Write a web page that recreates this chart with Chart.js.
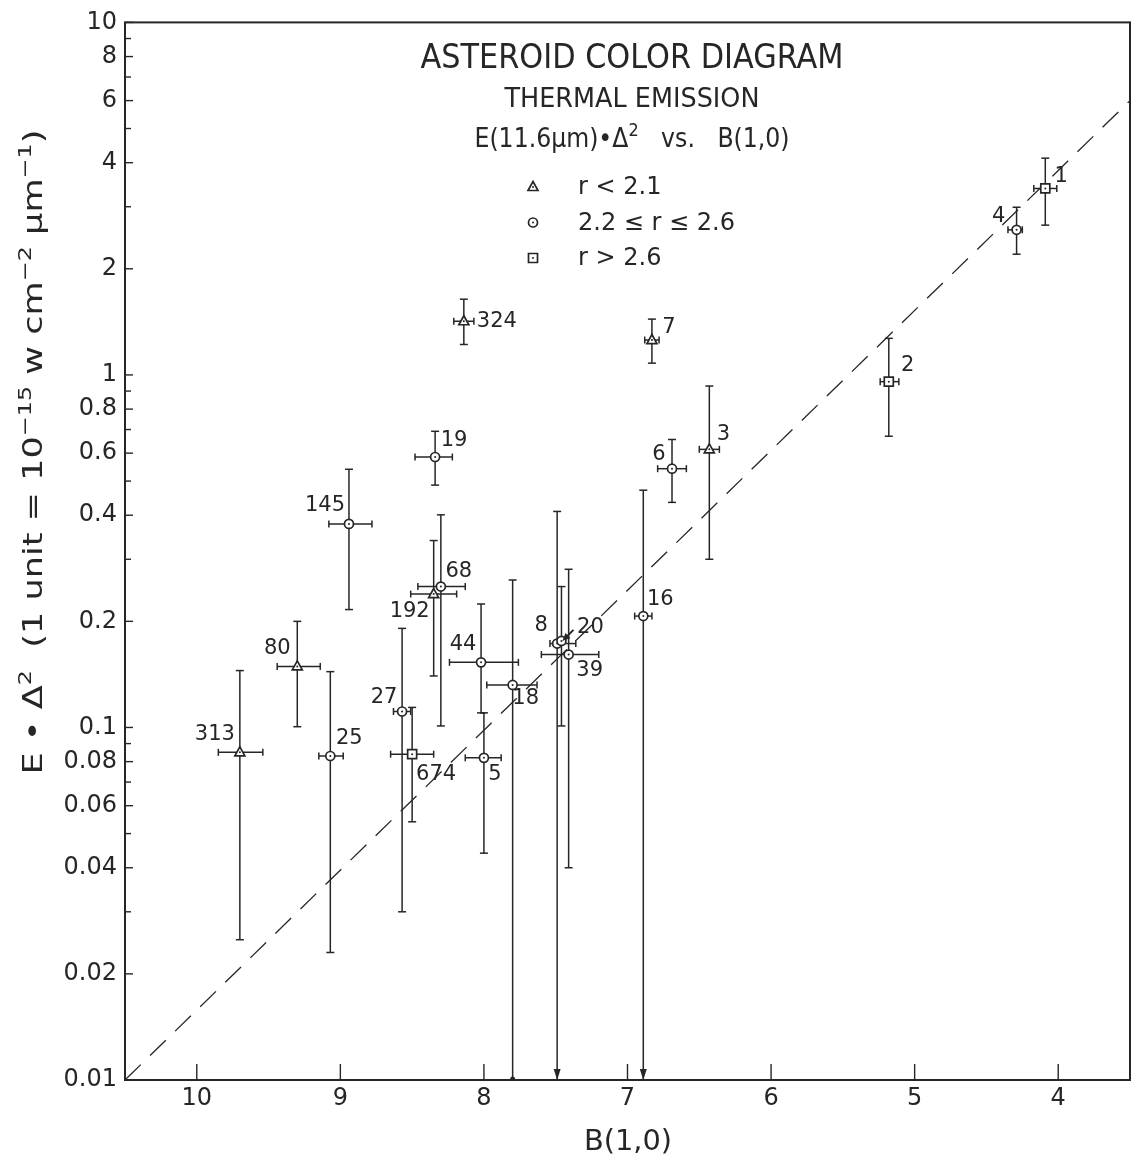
<!DOCTYPE html>
<html>
<head>
<meta charset="utf-8">
<script src="https://cdn.jsdelivr.net/npm/chart.js@4.4.1/dist/chart.umd.min.js"></script>
<style>
  html, body { margin: 0; padding: 0; background: #fff; }
  #wrap { width: 1138px; height: 1165px; }
</style>
</head>
<body>
<div id="wrap"><canvas id="chart" width="1138" height="1165"></canvas></div>
<script>
/* Asteroid colour diagram — thermal emission vs B(1,0) */

/* ── DATA ───────────────────────────────────────────────────── */
const asteroid = ['1', '2', '3', '4', '5', '6', '7', '8', '16', '18', '19', '20',
                  '25', '27', '39', '44', '68', '80', '145', '192', '313', '324', '674'];
const bMag     = [4.09, 5.18, 6.43, 4.29, 8.00, 6.69, 6.83, 7.49, 6.89, 7.80, 8.34, 7.46,
                  9.07, 8.57, 7.41, 8.02, 8.30, 9.30, 8.94, 8.35, 9.70, 8.14, 8.50];
const flux     = [3.38, 0.957, 0.615, 2.58, 0.082, 0.542, 1.256, 0.173, 0.207, 0.132, 0.585, 0.176,
                  0.083, 0.111, 0.161, 0.153, 0.251, 0.149, 0.378, 0.239, 0.085, 1.42, 0.084];
// B(1,0) error bar ends (faint side, bright side)
const bFaint   = [4.17, 5.24, 6.50, 4.35, 8.13, 6.79, 6.88, 7.54, 6.95, 7.98, 8.48, 7.46,
                  9.15, 8.63, 7.60, 8.24, 8.46, 9.44, 9.08, 8.51, 9.85, 8.21, 8.65];
const bBright  = [4.01, 5.11, 6.36, 4.25, 7.88, 6.59, 6.78, 7.36, 6.83, 7.63, 8.22, 7.46,
                  8.98, 8.51, 7.20, 7.76, 8.13, 9.14, 8.78, 8.19, 9.54, 8.07, 8.35];
// flux error bar ends; 0.01 = runs down to the axis
const fluxLow  = [2.66, 0.67, 0.30, 2.20, 0.044, 0.435, 1.08, 0.01, 0.01, 0.01, 0.487, 0.101,
                  0.023, 0.030, 0.040, 0.110, 0.101, 0.1005, 0.216, 0.140, 0.025, 1.22, 0.054];
const fluxHigh = [4.12, 1.27, 0.93, 2.99, 0.110, 0.656, 1.44, 0.41, 0.471, 0.262, 0.692, 0.251,
                  0.144, 0.191, 0.281, 0.224, 0.401, 0.200, 0.540, 0.339, 0.145, 1.64, 0.114];
// lower end style: cap | arrow | dot
const lowEnd   = ['cap', 'cap', 'cap', 'cap', 'cap', 'cap', 'cap', 'arrow', 'arrow', 'dot', 'cap', 'cap',
                  'cap', 'cap', 'cap', 'cap', 'cap', 'cap', 'cap', 'cap', 'cap', 'cap', 'cap'];
// heliocentric distance class: 0 = r<2.1, 1 = 2.2<=r<=2.6, 2 = r>2.6
const rClass   = [2, 2, 0, 1, 1, 1, 0, 1, 1, 1, 1, 1,
                  1, 1, 1, 1, 1, 0, 1, 0, 0, 0, 2];

const classLabels = ['r < 2.1', '2.2 ≤ r ≤ 2.6', 'r > 2.6'];

const xTicks = [10, 9, 8, 7, 6, 5, 4];
const yTickLabels = [0.01, 0.02, 0.04, 0.06, 0.08, 0.1, 0.2, 0.4, 0.6, 0.8, 1, 2, 4, 6, 8, 10];

const diagX = [10.5, 3.5];
const diagY = [0.01, 6.0];

/* ── STYLE ──────────────────────────────────────────────────── */
const INK = '#262626';
const FONT = '"DejaVu Sans", "Liberation Sans", sans-serif';
const shapes = ['triangle', 'circle', 'rect'];

// label centre offsets (px) from the point
const labelOffsets = {
  '1': [16, -12], '2': [19, -16], '3': [14, -15], '4': [-18, -13], '5': [11, 17],
  '6': [-13, -14], '7': [17, -12], '8': [-16, -18], '16': [17, -17], '18': [13, 14],
  '19': [19, -16], '20': [29, -13], '25': [19, -17], '27': [-18, -14], '39': [21, 16],
  '44': [-18, -18], '68': [18, -15], '80': [-20, -18], '145': [-24, -18], '192': [-24, 17],
  '313': [-25, -18], '324': [33, 0], '674': [24, 20]
};

/* ── HELPERS ────────────────────────────────────────────────── */
function seg(ctx, x1, y1, x2, y2) {
  ctx.beginPath();
  ctx.moveTo(x1, y1);
  ctx.lineTo(x2, y2);
  ctx.stroke();
}

function drawMarker(ctx, kind, x, y) {
  ctx.save();
  ctx.fillStyle = '#fff';
  ctx.strokeStyle = INK;
  ctx.lineWidth = 1.7;
  ctx.beginPath();
  if (kind === 0) {
    ctx.moveTo(x, y - 5.5);
    ctx.lineTo(x + 5, y + 3.5);
    ctx.lineTo(x - 5, y + 3.5);
    ctx.closePath();
  } else if (kind === 1) {
    ctx.arc(x, y, 4.5, 0, Math.PI * 2);
  } else {
    ctx.rect(x - 4.5, y - 4.5, 9, 9);
  }
  ctx.fill();
  ctx.stroke();
  ctx.fillStyle = INK;
  ctx.beginPath();
  ctx.arc(x, y, 1, 0, Math.PI * 2);
  ctx.fill();
  ctx.restore();
}

// text fitted to a target width (reference lettering is narrow)
function drawFitted(ctx, text, cx, baseline, size, width) {
  ctx.save();
  ctx.font = size + 'px ' + FONT;
  const w = ctx.measureText(text).width;
  const s = width / w;
  ctx.translate(cx, baseline);
  ctx.scale(s, 1);
  ctx.textAlign = 'center';
  ctx.textBaseline = 'alphabetic';
  ctx.fillText(text, 0, 0);
  ctx.restore();
}

// text with superscripts: segs = [[text, isSup], ...], x = centre
function drawRich(ctx, segs, cx, baseline, size, width) {
  ctx.save();
  const widths = segs.map(([t, sup]) => {
    ctx.font = (sup ? size * 0.68 : size) + 'px ' + FONT;
    return ctx.measureText(t).width;
  });
  const total = widths.reduce((a, b) => a + b, 0);
  const s = width ? width / total : 1;
  ctx.translate(cx - total * s / 2, baseline);
  ctx.scale(s, 1);
  ctx.textAlign = 'left';
  ctx.textBaseline = 'alphabetic';
  let x = 0;
  segs.forEach(([t, sup], i) => {
    ctx.font = (sup ? size * 0.68 : size) + 'px ' + FONT;
    ctx.fillText(t, x, sup ? -size * 0.42 : 0);
    x += widths[i];
  });
  ctx.restore();
}

/* ── PLUGIN: ERROR BARS ─────────────────────────────────────── */
const errorBars = {
  id: 'errorBars',
  beforeDatasetsDraw(chart) {
    const { ctx, chartArea: a, scales: { x, y } } = chart;
    ctx.save();
    ctx.strokeStyle = INK;
    ctx.fillStyle = INK;
    ctx.lineWidth = 1.5;
    asteroid.forEach((name, i) => {
      const px = x.getPixelForValue(bMag[i]);
      const py = y.getPixelForValue(flux[i]);
      const top = y.getPixelForValue(fluxHigh[i]);
      const bot = Math.min(y.getPixelForValue(fluxLow[i]), a.bottom);
      seg(ctx, px, top, px, bot);
      seg(ctx, px - 4, top, px + 4, top);
      if (lowEnd[i] === 'cap') {
        seg(ctx, px - 4, bot, px + 4, bot);
      } else if (lowEnd[i] === 'arrow') {
        ctx.beginPath();
        ctx.moveTo(px, bot);
        ctx.lineTo(px - 3.5, bot - 11);
        ctx.lineTo(px + 3.5, bot - 11);
        ctx.closePath();
        ctx.fill();
      } else {
        ctx.beginPath();
        ctx.arc(px, bot - 1, 2.5, Math.PI, 0);
        ctx.fill();
      }
      const xl = x.getPixelForValue(bFaint[i]);
      const xr = x.getPixelForValue(bBright[i]);
      if (xr - xl > 2) {
        seg(ctx, xl, py, xr, py);
        seg(ctx, xl, py - 3.5, xl, py + 3.5);
        seg(ctx, xr, py - 3.5, xr, py + 3.5);
      }
    });
    ctx.restore();
  },
  afterDatasetsDraw(chart) {
    const { ctx, scales: { x, y } } = chart;
    ctx.save();
    ctx.fillStyle = INK;
    ctx.strokeStyle = INK;
    ctx.font = '21px ' + FONT;
    ctx.textAlign = 'center';
    ctx.textBaseline = 'middle';
    asteroid.forEach((name, i) => {
      const px = x.getPixelForValue(bMag[i]);
      const py = y.getPixelForValue(flux[i]);
      drawMarker(ctx, rClass[i], px, py);
      const [dx, dy] = labelOffsets[name];
      ctx.fillText(name, px + dx, py + dy);
      if (name === '20') {
        // pointer from label to the point
        ctx.lineWidth = 2;
        seg(ctx, px + 12, py - 11, px + 4, py - 3);
        ctx.beginPath();
        ctx.moveTo(px + 1, py);
        ctx.lineTo(px + 9, py - 3);
        ctx.lineTo(px + 4, py - 8);
        ctx.closePath();
        ctx.fill();
      }
    });
    ctx.restore();
  }
};

/* ── PLUGIN: FRAME, TICKS, TEXT ─────────────────────────────── */
const decorations = {
  id: 'decorations',
  afterDraw(chart) {
    const { ctx, chartArea: a, scales: { x, y } } = chart;
    ctx.save();
    ctx.strokeStyle = INK;
    ctx.lineWidth = 2;
    ctx.strokeRect(a.left, a.top, a.right - a.left, a.bottom - a.top);

    ctx.lineWidth = 1.4;
    xTicks.forEach(v => {
      const px = x.getPixelForValue(v);
      seg(ctx, px, a.bottom, px, a.bottom - 16);
    });
    for (let d = -2; d <= 1; d++) {
      for (let m = 1; m <= 9; m++) {
        const v = m * Math.pow(10, d);
        if (v > 10.0001) continue;
        const py = y.getPixelForValue(v);
        const major = yTickLabels.some(t => Math.abs(t - v) / t < 1e-6);
        seg(ctx, a.left, py, a.left + (major ? 8 : 6), py);
      }
    }

    ctx.fillStyle = INK;
    drawFitted(ctx, 'ASTEROID COLOR DIAGRAM', 632, 68, 34, 423);
    drawFitted(ctx, 'THERMAL EMISSION', 632, 107, 27, 255);
    drawRich(ctx, [['E(11.6μm)•Δ', false], ['2', true], ['   vs.   B(1,0)', false]], 632, 147, 27, 315);

    classLabels.forEach((lab, k) => {
      const base = 194 + k * 35.5;
      drawMarker(ctx, k, 533, base - 7);
      ctx.font = '24px ' + FONT;
      ctx.textAlign = 'left';
      ctx.textBaseline = 'alphabetic';
      ctx.fillText(lab, 578, base);
    });

    drawFitted(ctx, 'B(1,0)', 628, 1150, 28, 88);

    ctx.save();
    ctx.translate(42, 452);
    ctx.rotate(-Math.PI / 2);
    drawRich(ctx, [['E • Δ', false], ['2', true], ['  (1 unit = 10', false], ['−15', true],
                   [' w cm', false], ['−2', true], [' μm', false], ['−1', true], [')', false]],
             0, 0, 27, 645);
    ctx.restore();
    ctx.restore();
  }
};

/* ── CHART ──────────────────────────────────────────────────── */
const datasets = [0, 1, 2].map(k => ({
  type: 'scatter',
  label: classLabels[k],
  data: bMag.map((b, i) => ({ x: b, y: flux[i] })).filter((p, i) => rClass[i] === k),
  pointRadius: 0,
  pointStyle: shapes[k]
}));
datasets.push({
  type: 'line',
  label: 'diagonal',
  data: diagX.map((v, i) => ({ x: v, y: diagY[i] })),
  borderColor: INK,
  borderWidth: 1.3,
  borderDash: [22, 13],
  pointRadius: 0,
  fill: false
});

new Chart(document.getElementById('chart').getContext('2d'), {
  type: 'scatter',
  data: { datasets },
  options: {
    responsive: false,
    animation: false,
    layout: { padding: { top: 15, right: 8, left: 0, bottom: 0 } },
    plugins: { legend: { display: false }, tooltip: { enabled: false } },
    scales: {
      x: {
        type: 'linear',
        reverse: true,
        min: 3.5,
        max: 10.5,
        afterBuildTicks: s => { s.ticks = xTicks.map(v => ({ value: v })); },
        afterFit: s => { s.height = 85; },
        ticks: { color: INK, font: { family: FONT, size: 24 }, padding: 4, maxRotation: 0 },
        grid: { display: false, drawTicks: false },
        border: { display: false }
      },
      y: {
        type: 'logarithmic',
        min: 0.01,
        max: 10,
        afterBuildTicks: s => { s.ticks = yTickLabels.map(v => ({ value: v })); },
        afterFit: s => { s.width = 125; },
        ticks: { color: INK, font: { family: FONT, size: 24 }, padding: 8, callback: v => String(v) },
        grid: { display: false, drawTicks: false },
        border: { display: false }
      }
    }
  },
  plugins: [errorBars, decorations]
});
</script>
</body>
</html>
